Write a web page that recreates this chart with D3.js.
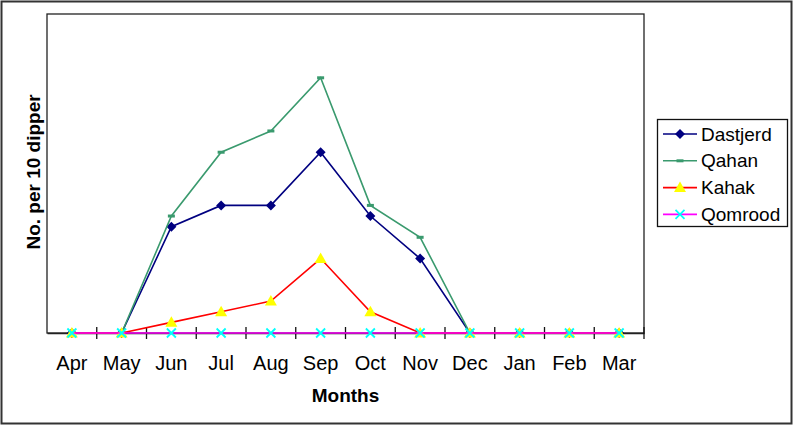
<!DOCTYPE html>
<html><head><meta charset="utf-8">
<script src="https://cdn.jsdelivr.net/npm/d3@7"></script>
<style>body{margin:0;background:#fff}svg{display:block}text{font-family:"Liberation Sans",Arial,sans-serif}</style>
</head><body>
<script>
const months = ["Apr","May","Jun","Jul","Aug","Sep","Oct","Nov","Dec","Jan","Feb","Mar"];
const dastjerd = [0,0,10,12,12,17,11,7,0,0,0,0];
const qahan    = [0,0,11,17,19,24,12,9,0,0,0,0];
const kahak    = [0,0,1,2,3,7,2,0,0,0,0,0];
const qomrood  = [0,0,0,0,0,0,0,0,0,0,0,0];
const seriesNames = ["Dastjerd","Qahan","Kahak","Qomrood"];
const yMax = 30;

const W=794,H=426;
const svg=d3.select("body").append("svg").attr("width",W).attr("height",H);
svg.append("rect").attr("x",1.5).attr("y",1.5).attr("width",790).attr("height",422)
  .attr("fill","#fff").attr("stroke","#333").attr("stroke-width",2);

const L=47,R=644,T=14,B=333;
const x=d3.scaleBand().domain(months).range([L,R]);
const y=d3.scaleLinear().domain([0,yMax]).range([B,T]);

svg.append("rect").attr("x",L).attr("y",T).attr("width",R-L).attr("height",B-T)
  .attr("fill","none").attr("stroke","#222").attr("stroke-width",1.3);

const ax=svg.append("g").attr("transform",`translate(0,${B})`)
  .call(d3.axisBottom(x).tickSize(6).tickSizeOuter(0).tickFormat(""));
ax.select(".domain").attr("stroke","#222").attr("stroke-width",1.5);
ax.selectAll(".tick").remove();
const edges=months.map((m,i)=>x(m)).concat([R]);
svg.append("g").selectAll("line").data(edges.slice(1)).join("line")
  .attr("x1",d=>d).attr("x2",d=>d).attr("y1",B-6).attr("y2",B+6)
  .attr("stroke","#111").attr("stroke-width",1.3);
svg.append("g").selectAll("text").data(months).join("text")
  .attr("x",d=>x(d)+x.bandwidth()/2).attr("y",369.5).attr("text-anchor","middle")
  .attr("font-size",20).attr("fill","#000").text(d=>d);

svg.append("text").attr("x",(L+R)/2).attr("y",402).attr("text-anchor","middle")
  .attr("font-size",19).attr("font-weight","bold").text("Months");
svg.append("text").attr("transform",`translate(40,${(T+B)/2 - 1.5}) rotate(-90)`)
  .attr("text-anchor","middle").attr("font-size",19).attr("font-weight","bold").text("No. per 10 dipper");

const cfg=[
 {name:"Dastjerd",data:dastjerd,line:"#000080",marker:"diamond",fill:"#000080"},
 {name:"Qahan",data:qahan,line:"#3a9a6e",marker:"dash",fill:"#3a9a6e"},
 {name:"Kahak",data:kahak,line:"#ff0000",marker:"tri",fill:"#ffff00"},
 {name:"Qomrood",data:qomrood,line:"#ff00ff",marker:"x",fill:"#00ffff"}
];
function drawMarker(g,type,fill,cx,cy){
  if(type==="diamond"){
    g.append("path").attr("d",`M${cx},${cy-5}L${cx+5},${cy}L${cx},${cy+5}L${cx-5},${cy}Z`).attr("fill",fill);
  }else if(type==="dash"){
    g.append("rect").attr("x",cx-3.5).attr("y",cy-1.5).attr("width",7).attr("height",3).attr("fill",fill);
  }else if(type==="tri"){
    g.append("path").attr("d",`M${cx},${cy-6}L${cx+6},${cy+4.5}L${cx-6},${cy+4.5}Z`).attr("fill",fill);
  }else{
    g.append("path").attr("d",`M${cx-4.5},${cy-4.5}L${cx+4.5},${cy+4.5}M${cx+4.5},${cy-4.5}L${cx-4.5},${cy+4.5}`)
      .attr("stroke",fill).attr("stroke-width",1.8);
  }
}
const line=d3.line().x((d,i)=>x(months[i])+x.bandwidth()/2).y(d=>y(d));
cfg.forEach(s=>{
  const g=svg.append("g");
  g.append("path").datum(s.data).attr("d",line).attr("fill","none").attr("stroke",s.line).attr("stroke-width",1.6);
  s.data.forEach((v,i)=>drawMarker(g,s.marker,s.fill,x(months[i])+x.bandwidth()/2,y(v)));
});

svg.append("rect").attr("x",657.5).attr("y",119.5).attr("width",130).attr("height",107)
  .attr("fill","#fff").attr("stroke","#111").attr("stroke-width",1.3);
cfg.forEach((s,i)=>{
  const cy=134+i*26.8;
  const g=svg.append("g");
  g.append("line").attr("x1",663).attr("x2",697).attr("y1",cy).attr("y2",cy).attr("stroke",s.line).attr("stroke-width",1.6);
  drawMarker(g,s.marker,s.fill,680,cy);
  g.append("text").attr("x",701).attr("y",cy+6.5).attr("font-size",19).text(s.name);
});
</script>
</body></html>
